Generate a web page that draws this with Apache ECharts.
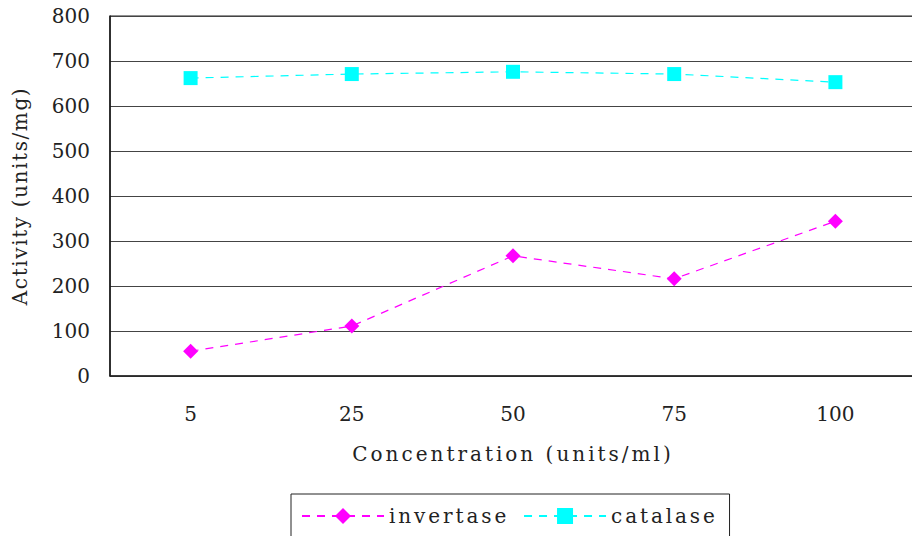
<!DOCTYPE html>
<html>
<head>
<meta charset="utf-8">
<script src="https://cdn.jsdelivr.net/npm/echarts@6/dist/echarts.min.js"></script>
<style>
  html, body { margin: 0; padding: 0; background: #fff; overflow: hidden; }
  #chart { width: 920px; height: 536px; }
</style>
</head>
<body>
<div id="chart"></div>
<script>
// Enzyme activity versus concentration
const concentrations = ['5', '25', '50', '75', '100'];
const invertase = [55, 111, 267, 216, 344];
const catalase = [662, 671, 676, 671, 653];
const yTicks = { min: 0, max: 800, interval: 100 };

const xTitle = 'Concentration (units/ml)';
const yTitle = 'Activity (units/mg)';

const FONT = 'DejaVu Serif';
const INK = '#222';

// wide tracking for the word labels (SVG letter-spacing)
const tracking = {
  [xTitle]: '3px',
  [yTitle]: '1.6px',
  'invertase': '2.9px',
  'catalase': '2.9px'
};

const chart = echarts.init(document.getElementById('chart'), null, { renderer: 'svg' });

chart.setOption({
  animation: false,
  backgroundColor: '#ffffff',
  textStyle: { fontFamily: FONT },
  grid: {
    left: 110, top: 16, width: 806, height: 360, containLabel: false,
    show: true, borderColor: INK, borderWidth: 1
  },
  xAxis: {
    type: 'category',
    data: concentrations,
    boundaryGap: true,
    name: xTitle,
    nameLocation: 'middle',
    nameGap: 68,
    nameTextStyle: { fontFamily: FONT, fontSize: 20, color: INK },
    axisLine: { lineStyle: { color: INK, width: 1.5 } },
    axisTick: { inside: true, length: 8, lineStyle: { color: INK } },
    axisLabel: { margin: 28, fontFamily: FONT, fontSize: 20, color: INK }
  },
  yAxis: {
    type: 'value',
    min: yTicks.min,
    max: yTicks.max,
    interval: yTicks.interval,
    name: yTitle,
    nameLocation: 'middle',
    nameGap: 80,
    nameTextStyle: { fontFamily: FONT, fontSize: 20, color: INK },
    axisLine: { show: true, lineStyle: { color: '#111', width: 1.5 } },
    axisTick: { show: false },
    splitLine: { lineStyle: { color: '#444', width: 1.2 } },
    axisLabel: { margin: 20, fontFamily: FONT, fontSize: 20, color: INK }
  },
  legend: {
    left: 291,
    top: 494,
    padding: [12, 35, 20, 10],
    itemGap: 40,
    itemWidth: 82,
    itemHeight: 20,
    borderColor: INK,
    borderWidth: 1,
    textStyle: { fontFamily: FONT, fontSize: 20, color: INK },
    data: ['invertase', 'catalase']
  },
  series: [
    {
      name: 'invertase',
      type: 'line',
      data: invertase,
      symbol: 'diamond',
      symbolSize: 15,
      itemStyle: { color: '#ff00ff' },
      lineStyle: { color: '#ff00ff', width: 1.2, type: [8, 7] }
    },
    {
      name: 'catalase',
      type: 'line',
      data: catalase,
      symbol: 'rect',
      symbolSize: 14,
      itemStyle: { color: '#00ffff' },
      lineStyle: { color: '#00ffff', width: 1.2, type: [8, 7] }
    }
  ]
});

function applyTracking() {
  document.querySelectorAll('#chart text').forEach(function (t) {
    const s = tracking[t.textContent];
    if (s) t.setAttribute('letter-spacing', s);
  });
}
chart.getZr().refreshImmediately();
applyTracking();
chart.on('finished', applyTracking);
</script>
</body>
</html>
